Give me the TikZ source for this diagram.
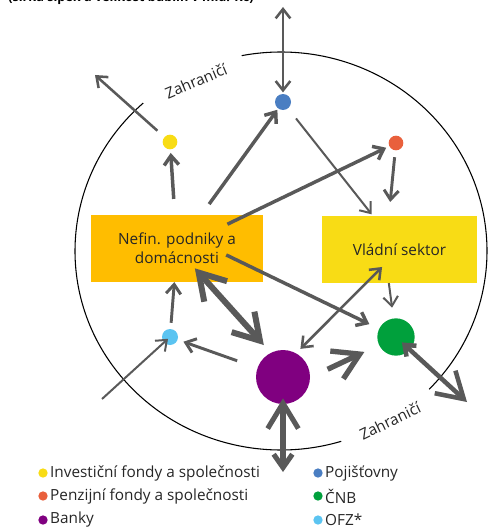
\documentclass[tikz,border=0pt]{standalone}
\usepackage{fontspec}
\setmainfont{Open Sans}
\usetikzlibrary{arrows.meta}

\definecolor{flowgray}{HTML}{595959}
\definecolor{nefinorange}{HTML}{FFBD00}
\definecolor{sunyellow}{HTML}{F8DC15}
\definecolor{pojblue}{HTML}{4A7EC2}
\definecolor{penred}{HTML}{E9603C}
\definecolor{bankpurple}{HTML}{800080}
\definecolor{cnbgreen}{HTML}{00A03C}
\definecolor{ofzblue}{HTML}{5BC4F1}

\begin{document}
\begin{tikzpicture}[
    x=0.75pt, y=-0.75pt,
    font=\fontsize{11.5}{14}\selectfont,
    sbarb/.tip={Straight Barb[length=7pt, width=11pt]},
    mbarb/.tip={Straight Barb[length=10pt, width=14pt]},
    lbarb/.tip={Straight Barb[length=19pt, width=23pt]},
    sector/.style={rectangle, minimum width=129pt, minimum height=50pt, align=center, inner sep=2pt, text=black!85},
    bubble/.style={circle, inner sep=0pt, minimum size=#1},
    flow/.style={draw=flowgray, line width=#1},
    border/.style={draw=black, line width=0.8pt},
    zone text/.style={text=black!85, inner sep=0pt},
    legend dot/.style={circle, inner sep=0pt, minimum size=7pt},
    legend text/.style={text=black!85, inner sep=1.5pt}
]
\useasboundingbox (0,0) rectangle (490,528);

% Title line
\node[anchor=base west, inner sep=0pt, font=\bfseries\fontsize{9.5}{11}\selectfont] (title) at (8,2) {(šířka šipek a velikost bublin v mld. Kč)};

% Border of the domestic economy
\coordinate (ctr) at (281,251);
\draw[border] (ctr) ++(-132:206 and 199) arc[start angle=-132, end angle=-287, x radius=206, y radius=199];
\draw[border] (ctr) ++(44:206 and 199) arc[start angle=44, end angle=-101, x radius=206, y radius=199];
\node[zone text, rotate=23] (zahr_top) at (196,81) {Zahraničí};
\node[zone text, rotate=26] (zahr_bot) at (390,421) {Zahraničí};

% Sectors
\node[sector, fill=nefinorange] (nefin) at (177,248.5) {Nefin. podniky a\\domácnosti};
\node[sector, fill=sunyellow, minimum width=116pt] (vlada) at (399.5,249.5) {Vládní sektor};
\node[bubble=11pt, fill=sunyellow] (inv) at (170,142) {};
\node[bubble=12pt, fill=pojblue] (poj) at (283,102) {};
\node[bubble=11pt, fill=penred] (pen) at (396,143) {};
\node[bubble=12pt, fill=ofzblue] (ofz) at (170,337) {};
\node[bubble=40.5pt, fill=bankpurple] (banky) at (283,377) {};
\node[bubble=28pt, fill=cnbgreen] (cnb) at (396,337) {};

% Ends outside the border
\coordinate (out_top) at (283,7);
\coordinate (out_inv) at (95,75);
\coordinate (out_ofz) at (102,399);
\coordinate (out_cnb) at (467,402);
\coordinate (out_banky) at (283,472);

% Flows
\draw[flow=1.9pt, sbarb-sbarb, shorten >=1pt] (out_top) -- (poj);
\draw[flow=1.5pt, -sbarb, shorten <=9.5pt, shorten >=1.5pt] (poj) -- (vlada);
\draw[flow=2.6pt, -sbarb, shorten <=10pt, shorten >=1pt] (nefin) -- (poj);
\draw[flow=2.6pt, -sbarb, shorten <=12pt, shorten >=2.5pt] (nefin) -- (inv);
\draw[flow=1.9pt, -sbarb, shorten <=7pt] (inv) -- (out_inv);
\draw[flow=2.6pt, -sbarb, shorten <=42pt, shorten >=2.5pt] (nefin.center) -- (pen);
\draw[flow=2.2pt, -sbarb, shorten <=5pt, shorten >=10.5pt] (pen) -- ([xshift=-8pt]vlada.north);
\draw[flow=1.5pt, -sbarb, shorten >=8pt] ([xshift=-8pt]vlada.south) -- (cnb);
\draw[flow=2.6pt, -sbarb, shorten <=41pt, shorten >=8pt] ([yshift=13pt]nefin.center) -- (cnb);
\draw[flow=4.5pt, lbarb-lbarb, shorten <=20pt, shorten >=21.5pt] (nefin.center) -- ([yshift=8pt]banky.center);
\draw[flow=1.9pt, sbarb-sbarb, shorten <=18.5pt, shorten >=18.5pt] ([yshift=8pt]banky.center) -- (vlada.center);
\draw[flow=2.2pt, -sbarb, shorten <=16pt, shorten >=4.5pt] (banky) -- (ofz);
\draw[flow=1.5pt, -sbarb, shorten >=2pt] (out_ofz) -- (ofz.center);
\draw[flow=2.2pt, -sbarb, shorten <=4.5pt] (ofz) -- (nefin);
\draw[flow=4pt, -lbarb, shorten <=37pt, shorten >=12pt] ([yshift=-10pt]banky.center) -- (cnb);
\draw[flow=3.4pt, sbarb-lbarb, shorten <=6pt] (cnb.center) -- (out_cnb);
\draw[flow=3.8pt, lbarb-mbarb, shorten <=16pt] (banky.center) -- (out_banky);

% Legend
\node[legend dot, fill=sunyellow, label={[legend text]right:Investiční fondy a společnosti}] (leg_inv) at (43,473) {};
\node[legend dot, fill=penred, label={[legend text]right:Penzijní fondy a společnosti}] (leg_pen) at (43,496) {};
\node[legend dot, fill=bankpurple, label={[legend text]right:Banky}] (leg_banky) at (43,520) {};
\node[legend dot, fill=pojblue, label={[legend text]right:Pojišťovny}] (leg_poj) at (318,473) {};
\node[legend dot, fill=cnbgreen, label={[legend text]right:ČNB}] (leg_cnb) at (318,496) {};
\node[legend dot, fill=ofzblue, label={[legend text]right:OFZ*}] (leg_ofz) at (318,520) {};

\end{tikzpicture}
\end{document}
